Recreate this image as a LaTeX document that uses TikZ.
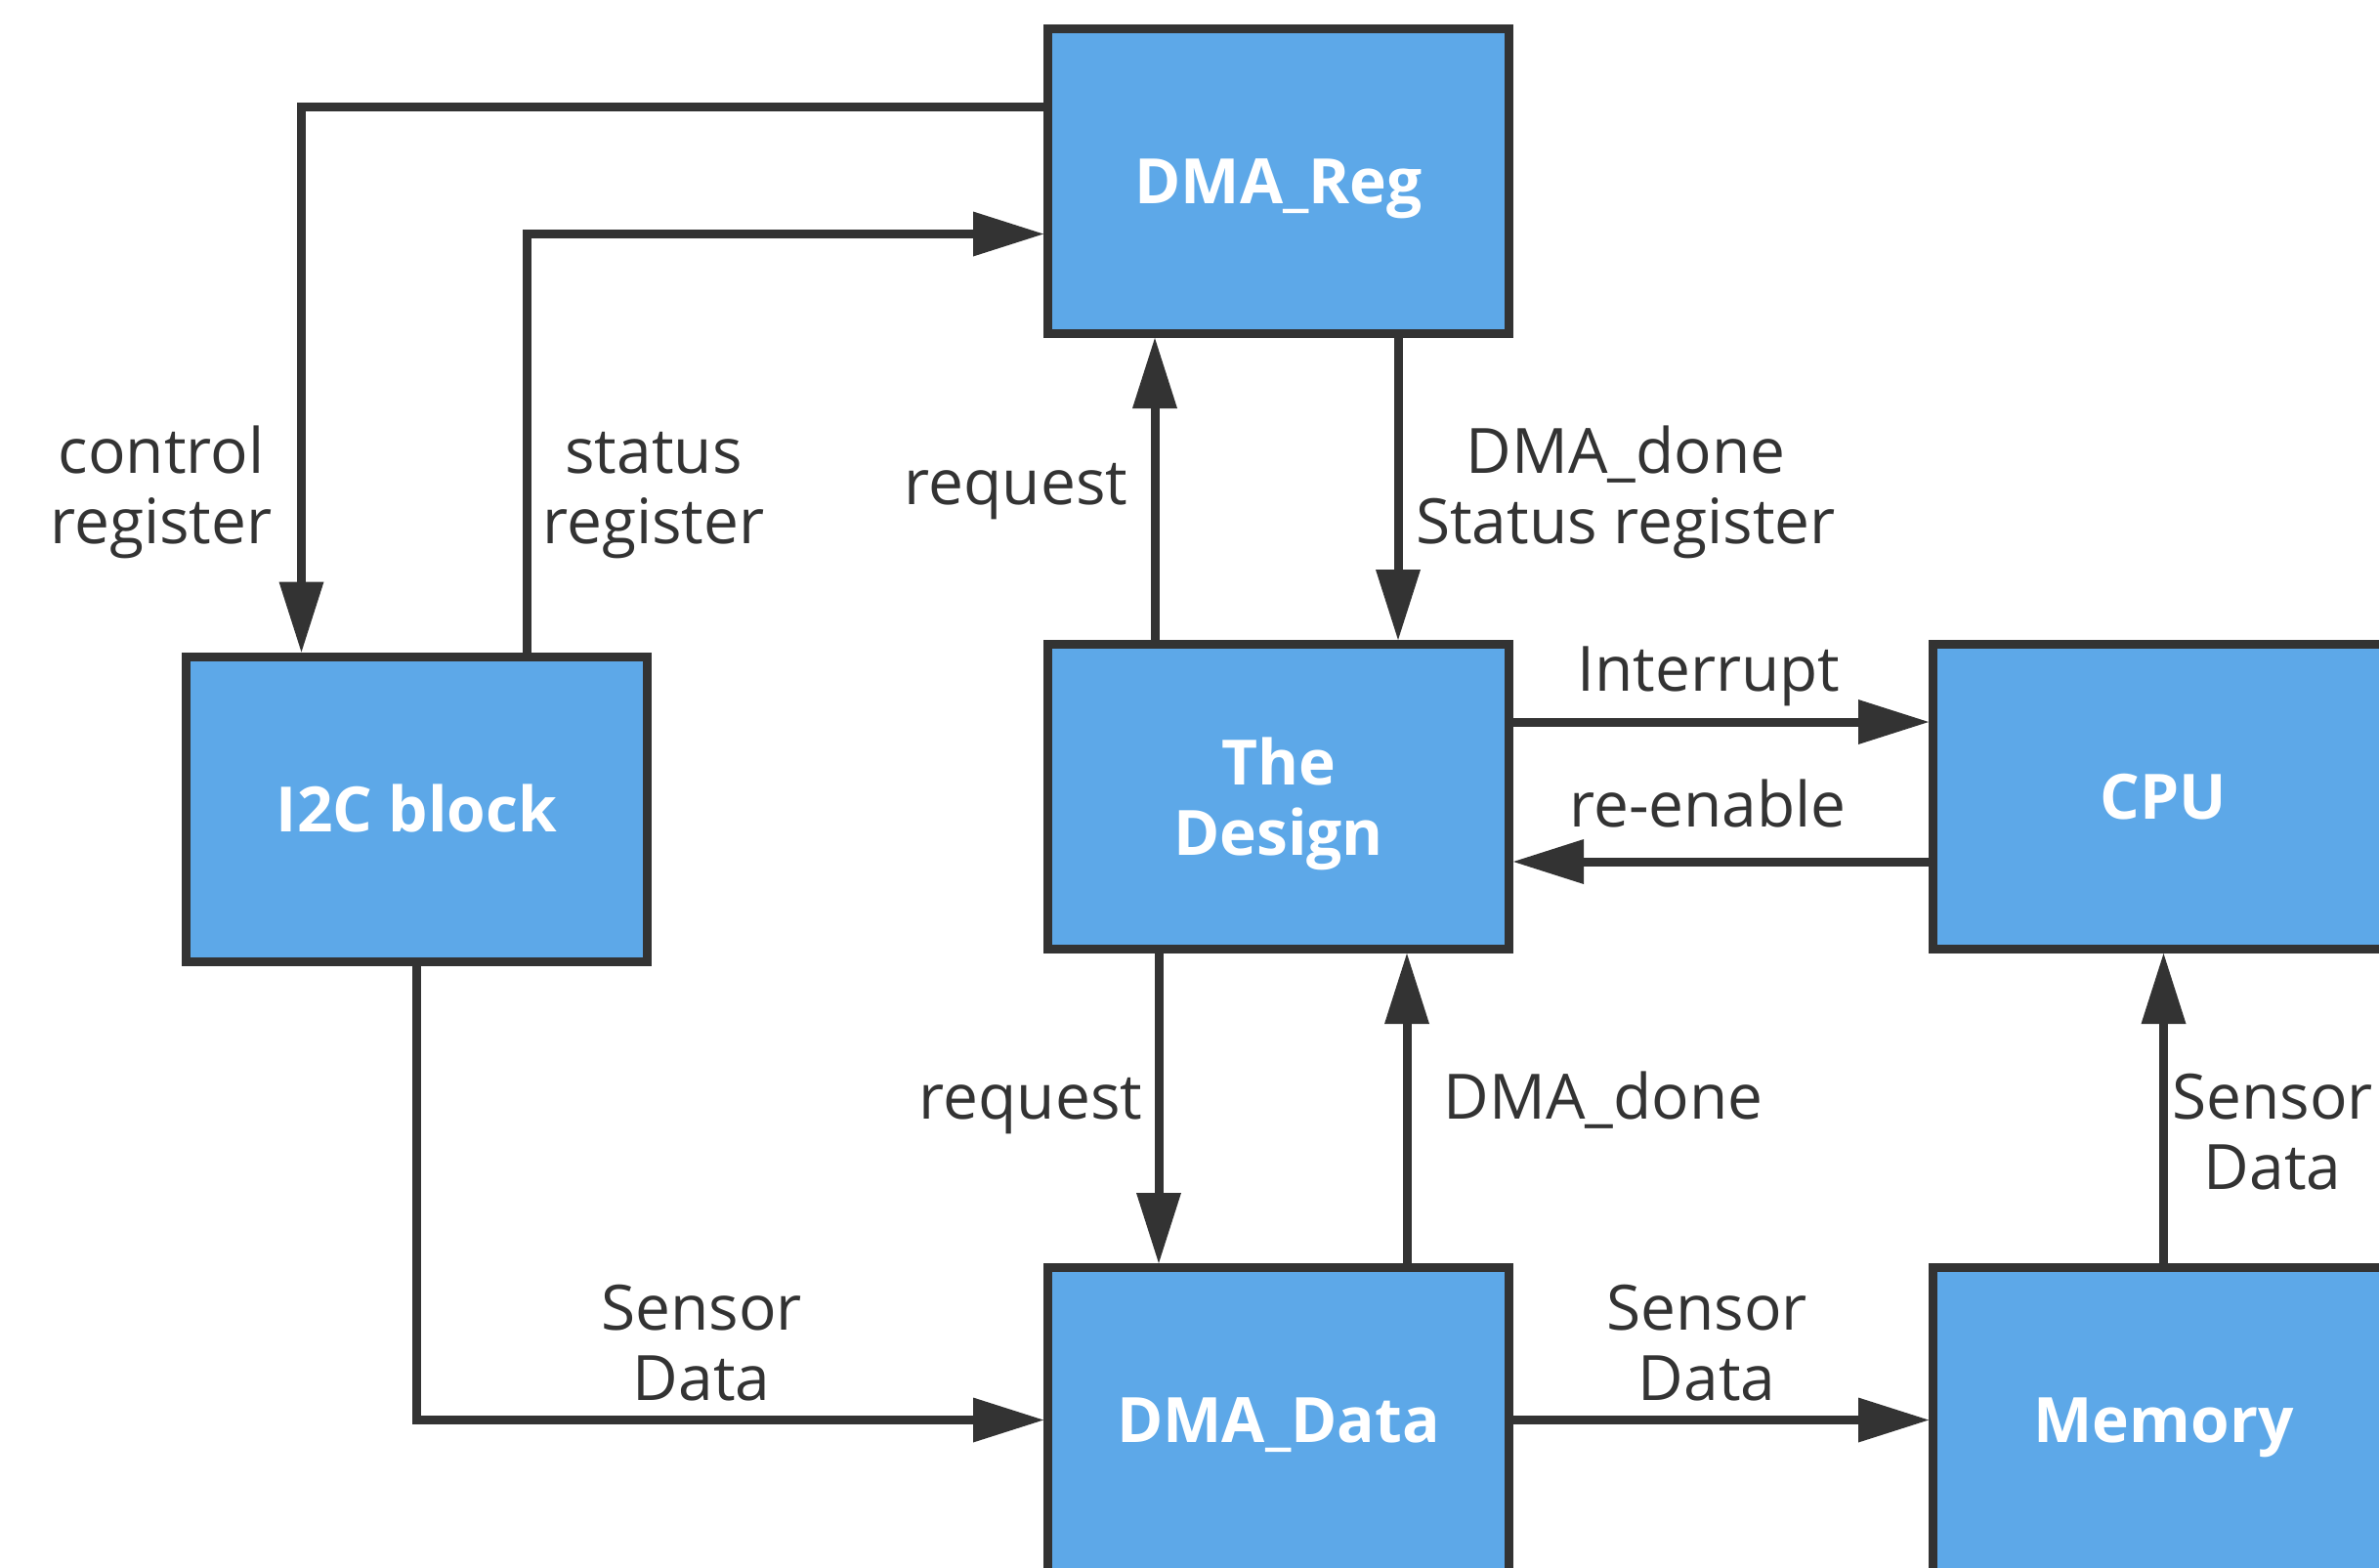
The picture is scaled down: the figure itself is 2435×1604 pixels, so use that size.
\documentclass[tikz,border=0pt]{standalone}
\usepackage{fontspec}
\setmainfont{Open Sans}
\usetikzlibrary{arrows.meta}
\definecolor{boxblue}{HTML}{5DA8E8}
\definecolor{ink}{HTML}{333333}
\begin{document}
\begin{tikzpicture}[x=1pt,y=-1pt,
  blk/.style={draw=ink, line width=9pt, fill=boxblue, minimum width=472pt, minimum height=312pt, inner sep=0pt, text=white, font=\fontsize{64}{72}\selectfont\bfseries, align=center, text depth=0pt},
  sgl/.style={text height=46pt},
  lbl/.style={text=ink, font=\fontsize{64}{72}\selectfont, align=center, inner sep=0pt, anchor=base},
  arr/.style={draw=ink, line width=9pt, -{Triangle[length=72pt,width=46pt,line width=0pt]}}
]
\useasboundingbox (0,0) rectangle (2435,1604);
\clip (0,0) rectangle (2435,1604);
\fill[white] (0,0) rectangle (2435,1604);

\node[blk,sgl] (reg) at (1308.5,185.5) {DMA\_Reg};
\node[blk,sgl] (i2c) at (426.5,828) {I2C block};
\node[blk] (des) at (1308.5,815.5) {The\\Design};
\node[blk,sgl] (cpu) at (2214.5,815.5) {CPU};
\node[blk,sgl] (dat) at (1308.5,1453.5) {DMA\_Data};
\node[blk,sgl] (mem) at (2214.5,1453.5) {Memory};

\coordinate (c1) at (308.5,109.5);
\coordinate (c2) at (539.5,239.5);
\draw[arr] (reg.west |- c1) -- (c1) -- (i2c.north -| c1);
\draw[arr] (i2c.north -| c2) -- (c2) -- (reg.west |- c2);
\draw[arr] ([xshift=-126.5pt]des.north) -- ([xshift=-126.5pt]reg.south);
\draw[arr] ([xshift=122.5pt]reg.south) -- ([xshift=122.5pt]des.north);
\draw[arr] ([yshift=76.5pt]des.east) -- ([yshift=76.5pt]cpu.west);
\draw[arr] ([yshift=-66.5pt]cpu.west) -- ([yshift=-66.5pt]des.east);
\draw[arr] ([xshift=-122.5pt]des.south) -- ([xshift=-122.5pt]dat.north);
\draw[arr] ([xshift=131.5pt]dat.north) -- ([xshift=131.5pt]des.south);
\draw[arr] (i2c.south) -- (i2c.south |- dat.west) -- (dat.west);
\draw[arr] (dat.east) -- (mem.west);
\draw[arr] (mem.north) -- (cpu.south);

\node[lbl] (lcr) at (165,556) {control\\register};
\node[lbl] (lsr) at (669,556) {status\\register};
\node[lbl] (lrq1) at (1040,516) {request};
\node[lbl] (ldd1) at (1664,556) {DMA\_done\\Status register};
\node[lbl] (lint) at (1749,707) {Interrupt};
\node[lbl] (lre) at (1748,846) {re-enable};
\node[lbl] (lrq2) at (1055,1145) {request};
\node[lbl] (ldd2) at (1641,1145) {DMA\_done};
\node[lbl] (ls1) at (718,1433) {Sensor\\Data};
\node[lbl] (ls2) at (1747,1433) {Sensor\\Data};
\node[lbl] (ls3) at (2326,1217) {Sensor\\Data};
\end{tikzpicture}
\end{document}
